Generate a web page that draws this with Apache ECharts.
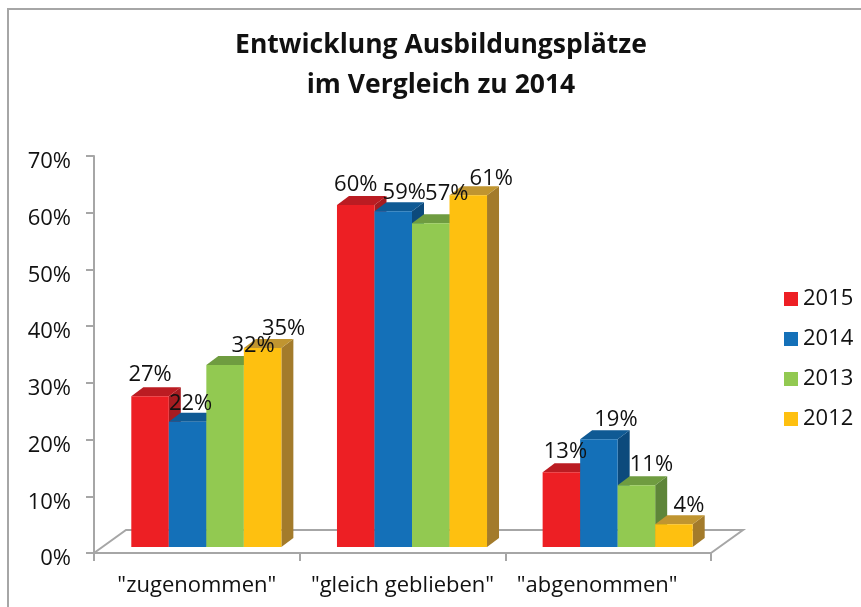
<!DOCTYPE html>
<html>
<head>
<meta charset="utf-8">
<style>
  html, body { margin: 0; padding: 0; background: #fff; }
  #chart { width: 861px; height: 607px; }
</style>
<script src="https://cdn.jsdelivr.net/npm/echarts@6/dist/echarts.min.js"></script>
</head>
<body>
<div id="chart"></div>
<script>
const categories = ['"zugenommen"', '"gleich geblieben"', '"abgenommen"']
const years = ['2015', '2014', '2013', '2012']
// bar heights as drawn
const values2015 = [26.6, 60.3, 13.2]
const values2014 = [22.1, 59.2, 19]
const values2013 = [32.1, 57.1, 10.9]
const values2012 = [35.1, 62, 4]
// labels as printed, the 2012 middle bar is taller than its label says
const labels2015 = ['27%', '60%', '13%']
const labels2014 = ['22%', '59%', '19%']
const labels2013 = ['32%', '57%', '11%']
const labels2012 = ['35%', '61%', '4%']
const yTicks = [0, 10, 20, 30, 40, 50, 60, 70]

const FONT = '"Open Sans", sans-serif'
const GREY = '#a6a6a6'
const TEXT = '#111'

// front, top, side
const faces = [
  ['#ed1f24', '#bb1c22', '#a51c20'],
  ['#1470b8', '#0f5a94', '#0c4a7c'],
  ['#92c951', '#6f9c40', '#5e8539'],
  ['#fec010', '#c09530', '#a37b2b']
]

// the bars stand a bit inside the floor
const barShift = [9.5, -6]
const barDepth = [12, -9]
const floorDepth = [32, -23]
const barWidthShare = 0.1824

// hand placed labels in the original: [dx, dy] per year per category
const labelShift = [
  [[0, -21], [0, -20], [4, -20]],
  [[3, -18], [11, -19], [17, -20]],
  [[28, -19], [16, -29], [15, -20]],
  [[21, -19], [23, -17], [15, -19]]
]

const allValues = [values2015, values2014, values2013, values2012]
const allLabels = [labels2015, labels2014, labels2013, labels2012]

function polygon(points, fill) {
  return { type: 'polygon', shape: { points }, style: { fill } }
}

function renderBar(seriesIdx) {
  return function (params, api) {
    const cat = api.value(0)
    const val = api.value(1)
    const bandWidth = api.size([1, 0])[0]
    const w = bandWidth * barWidthShare
    const p = api.coord([cat, val])
    const base = api.coord([cat, 0])
    const left = p[0] + barShift[0] + (seriesIdx - 2) * w
    const right = left + w
    const top = p[1] + barShift[1]
    const bottom = base[1] + barShift[1]
    const dx = barDepth[0]
    const dy = barDepth[1]
    const c = faces[seriesIdx]
    return {
      type: 'group',
      children: [
        polygon([[right, top], [right + dx, top + dy], [right + dx, bottom + dy], [right, bottom]], c[2]),
        polygon([[left, top], [left + dx, top + dy], [right + dx, top + dy], [right, top]], c[1]),
        polygon([[left, top], [right, top], [right, bottom], [left, bottom]], c[0])
      ]
    }
  }
}

function renderLabel(seriesIdx) {
  return function (params, api) {
    const cat = api.value(0)
    const val = api.value(1)
    const w = api.size([1, 0])[0] * barWidthShare
    const p = api.coord([cat, val])
    const shift = labelShift[seriesIdx][cat]
    return {
      type: 'text',
      z2: 100,
      style: {
        x: p[0] + barShift[0] + (seriesIdx - 1.5) * w + shift[0],
        y: p[1] + barShift[1] + shift[1],
        text: allLabels[seriesIdx][cat],
        fill: TEXT,
        font: '22px ' + FONT,
        align: 'center',
        verticalAlign: 'middle'
      }
    }
  }
}

function renderFloor(params, api) {
  const a = api.coord([0, 0])
  const band = api.size([1, 0])[0]
  const x0 = a[0] - band / 2
  const x1 = x0 + band * categories.length
  const y = a[1]
  return {
    type: 'polyline',
    shape: {
      points: [[x0, y], [x0 + floorDepth[0], y + floorDepth[1]], [x1 + floorDepth[0], y + floorDepth[1]], [x1, y]]
    },
    style: { stroke: GREY, lineWidth: 2, fill: null }
  }
}

const barSeries = years.map((year, i) => ({
  name: year,
  type: 'custom',
  renderItem: renderBar(i),
  data: categories.map((c, j) => [j, allValues[i][j]]),
  itemStyle: { color: faces[i][0] },
  clip: false,
  silent: true,
  z: 3 + i
}))

const labelSeries = years.map((year, i) => ({
  type: 'custom',
  renderItem: renderLabel(i),
  data: categories.map((c, j) => [j, allValues[i][j]]),
  clip: false,
  silent: true,
  z: 10
}))

const floorSeries = {
  type: 'custom',
  renderItem: renderFloor,
  data: [[0, 0]],
  clip: false,
  silent: true,
  z: 1
}

const chart = echarts.init(document.getElementById('chart'), null, { renderer: 'canvas' })

chart.setOption({
  animation: false,
  backgroundColor: '#fff',
  title: {
    text: 'Entwicklung Ausbildungsplätze\nim Vergleich zu 2014',
    left: 436,
    top: 20,
    textAlign: 'center',
    textStyle: {
      fontFamily: FONT,
      fontWeight: 'bold',
      fontSize: 26.5,
      lineHeight: 40,
      color: TEXT
    }
  },
  legend: {
    data: years,
    orient: 'vertical',
    left: 784,
    top: 288,
    padding: 0,
    itemWidth: 14,
    itemHeight: 14,
    itemGap: 18,
    icon: 'rect',
    selectedMode: false,
    textStyle: { fontFamily: FONT, fontSize: 22, color: TEXT, padding: [3, 0, 0, 0] }
  },
  grid: { left: 94, top: 156, width: 617, height: 397 },
  xAxis: {
    type: 'category',
    data: categories.map((c, i) => (i === 2 ? { value: c, textStyle: { padding: [0, 22, 0, 0] } } : c)),
    boundaryGap: true,
    axisLine: { lineStyle: { color: GREY, width: 2 } },
    axisTick: { show: true, alignWithLabel: false, length: 8, lineStyle: { color: GREY, width: 2 } },
    axisLabel: { fontFamily: FONT, fontSize: 22, color: TEXT, margin: 22, interval: 0 }
  },
  yAxis: {
    type: 'value',
    min: yTicks[0],
    max: yTicks[yTicks.length - 1],
    interval: yTicks[1] - yTicks[0],
    splitLine: { show: false },
    axisLine: { show: true, lineStyle: { color: GREY, width: 2 } },
    axisTick: { show: true, length: 8, lineStyle: { color: GREY, width: 2 } },
    axisLabel: { fontFamily: FONT, fontSize: 22, color: TEXT, margin: 23, verticalAlign: 'top', lineHeight: 12, formatter: '{value}%' }
  },
  graphic: [
    {
      type: 'polyline',
      silent: true,
      shape: { points: [[8, 607], [8, 9], [861, 9]] },
      style: { stroke: GREY, lineWidth: 2, fill: null }
    }
  ],
  series: [floorSeries].concat(barSeries, labelSeries)
})
</script>
</body>
</html>
